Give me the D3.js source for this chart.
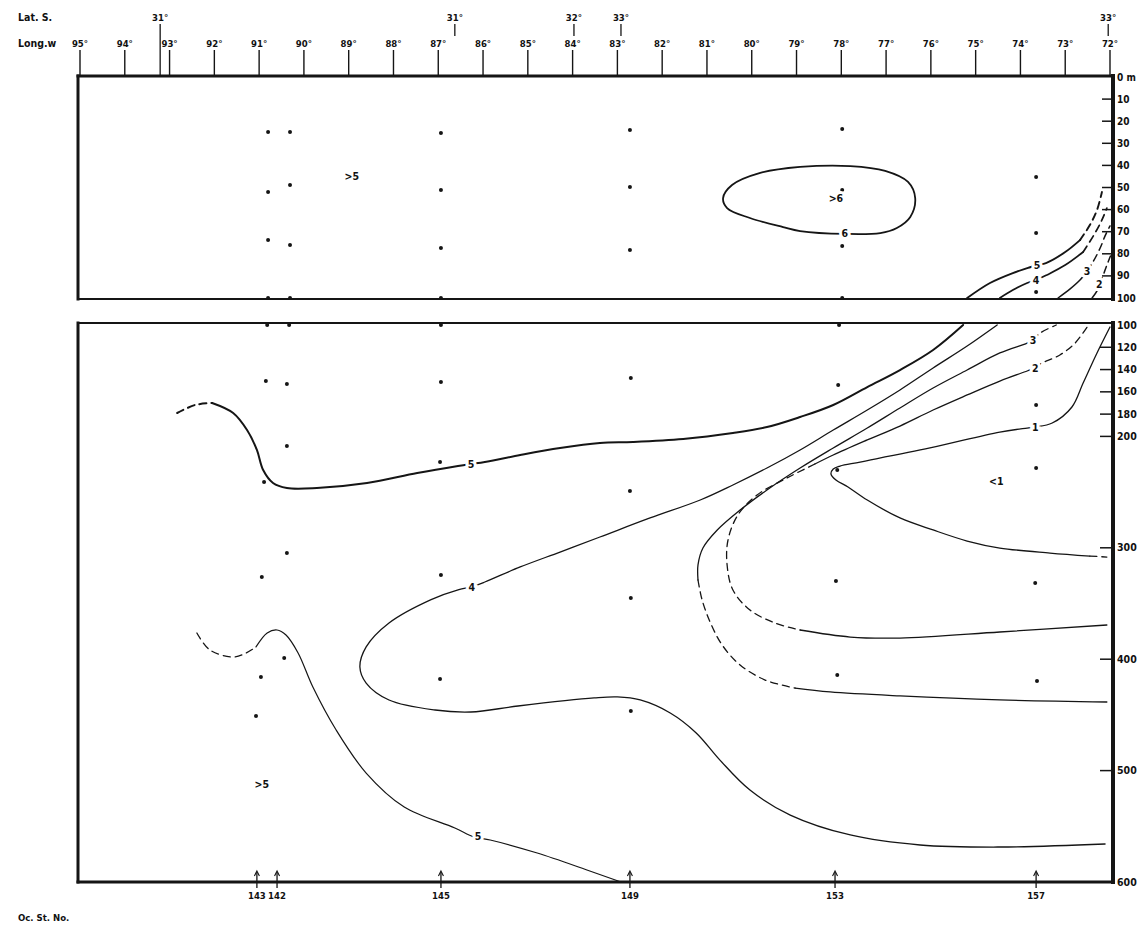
<!DOCTYPE html>
<html>
<head>
<meta charset="utf-8">
<script src="https://cdn.jsdelivr.net/npm/d3@7"></script>
<style>
  html, body { margin: 0; padding: 0; background: #fff; }
  svg { display: block; }
  text { font-family: "DejaVu Sans Condensed", "Liberation Sans Narrow", "DejaVu Sans", sans-serif; font-weight: bold; fill: #111; }
</style>
</head>
<body>
<svg id="chart" width="1146" height="928"></svg>
<script>
// ---- axis labels ----
const lonTicks = [95, 94, 93, 92, 91, 90, 89, 88, 87, 86, 85, 84, 83, 82, 81, 80, 79, 78, 77, 76, 75, 74, 73, 72];
const latLabels = ["31°", "31°", "32°", "33°", "33°"];
const latLon = [93.21, 86.63, 83.97, 82.92, 72.04];
const depthTicksTop = [0, 10, 20, 30, 40, 50, 60, 70, 80, 90, 100];
const depthTicksBottom = [100, 120, 140, 160, 180, 200, 300, 400, 500, 600];
const stationNames = ["143", "142", "145", "149", "153", "157"];
const stationLon = [91.05, 90.60, 86.94, 82.72, 78.14, 73.65];

// ---- sampling depths [longitude W, depth m] ----
const samplesTop = [
  [90.80, 24.9], [90.80, 52.0], [90.80, 73.8], [90.80, 100],
  [90.31, 24.9], [90.31, 48.9], [90.31, 76.0], [90.31, 100],
  [86.94, 25.3], [86.94, 51.1], [86.94, 77.4], [86.94, 100],
  [82.72, 24.0], [82.72, 49.8], [82.72, 78.3],
  [77.98, 23.5], [77.98, 51.1], [77.98, 76.5], [77.98, 100],
  [73.65, 45.2], [73.65, 70.6], [73.65, 97.3]
];
const samplesBottom = [
  [90.82, 100], [90.85, 150.3], [90.89, 240.9], [90.94, 326.2], [90.96, 416.0], [91.07, 451.0],
  [90.33, 100], [90.38, 153.0], [90.38, 208.6], [90.38, 304.7], [90.44, 398.9],
  [86.94, 100], [86.94, 151.2], [86.96, 223.0], [86.94, 324.4], [86.96, 417.8],
  [82.70, 147.6], [82.72, 249.0], [82.70, 345.1], [82.70, 446.5],
  [78.05, 100], [78.07, 153.9], [78.09, 230.2], [78.12, 329.8], [78.09, 414.2],
  [73.65, 171.8], [73.65, 228.4], [73.67, 331.6], [73.63, 419.6]
];

// ---- isolines, upper section (0-100 m) ----
const iso6Ring = [[80.64, 54.8], [80.44, 48.9], [79.81, 43.4], [78.92, 40.7], [77.80, 40.3], [77.02, 42.5], [76.51, 47.5], [76.35, 54.8], [76.46, 63.3], [76.76, 68.3], [77.13, 70.6], [77.92, 71.0], [78.92, 69.7], [79.30, 67.9], [80.04, 63.8], [80.55, 59.3]];
const iso5TopSolid = [[75.19, 100], [74.68, 93.2], [74.17, 88.7], [73.83, 86.4], [73.63, 85.1], [73.43, 84.2], [73.0, 79.2], [72.67, 73.8]];
const iso5TopDash = [[72.67, 73.8], [72.45, 67.0], [72.29, 60.2], [72.18, 52.0]];
const iso4TopSolid = [[74.46, 100], [74.17, 96.4], [73.85, 93.2], [73.65, 91.9], [73.41, 89.6], [73.0, 85.1], [72.60, 79.2]];
const iso4TopDash = [[72.60, 79.2], [72.36, 71.5], [72.18, 64.7], [72.07, 59.3]];
const iso3TopSolid = [[73.16, 100], [72.89, 95.9], [72.67, 91.9], [72.51, 87.8]];
const iso3TopDash = [[72.51, 87.8], [72.38, 83.7], [72.22, 77.4], [72.11, 71.9], [72.0, 67.4]];
const iso2TopSolid = [[72.40, 100], [72.29, 96.8], [72.24, 93.7]];
const iso2TopDash = [[72.24, 93.7], [72.15, 89.6], [72.07, 85.1], [71.99, 81.0]];

// ---- isolines, lower section (100-600 m) ----
const iso5BotDash = [[92.83, 179.0], [92.43, 171.8], [92.05, 170.0]];
const iso5BotSolid = [[92.05, 170.0], [91.58, 179.0], [91.27, 194.3], [91.05, 212.2], [90.91, 230.2], [90.69, 241.8], [90.38, 246.3], [89.71, 246.3], [88.59, 241.8], [87.47, 232.9], [86.56, 226.6], [86.27, 224.8], [85.96, 223.0], [85.17, 216.7], [84.28, 210.4], [83.39, 205.9], [82.65, 205.0], [81.53, 202.3], [80.42, 196.9], [79.66, 191.6], [78.92, 182.6], [78.18, 171.8], [77.42, 155.7], [76.69, 140.4], [75.95, 122.4], [75.28, 100]];
const iso5DeepDash = [[92.39, 376.5], [92.10, 391.7], [91.58, 398.0], [91.29, 394.4], [91.07, 389.0]];
const iso5DeepSolid = [[91.07, 389.0], [90.82, 376.5], [90.60, 373.8], [90.40, 378.3], [90.13, 394.4], [89.80, 425.0], [89.28, 463.6], [88.61, 502.2], [87.76, 532.7], [86.63, 551.5], [86.20, 559.6], [85.84, 562.3], [84.79, 574.0], [83.68, 589.2], [82.92, 600]];
const iso4Bot = [[74.52, 100], [75.19, 118.9], [75.95, 138.6], [76.69, 158.3], [77.42, 176.3], [78.18, 194.3], [78.92, 212.2], [79.66, 228.4], [80.42, 243.6], [81.15, 257.1], [82.27, 273.2], [83.39, 290.3], [84.28, 303.8], [85.17, 317.2], [85.96, 330.7], [86.27, 335.2], [86.54, 337.5], [87.16, 346.5], [88.10, 367.5], [88.61, 389.0], [88.75, 407.0], [88.61, 421.4], [88.10, 436.6], [87.07, 445.6], [86.27, 447.4], [85.22, 442.0], [83.52, 434.8], [83.00, 433.9], [82.49, 436.6], [81.82, 448.3], [81.24, 466.2], [80.71, 490.6], [80.04, 517.5], [79.14, 539.9], [77.80, 557.8], [76.24, 566.8], [74.46, 568.6], [72.11, 565.9]];
const iso3BotUpDash = [[73.72, 113.5], [73.56, 107.2], [73.20, 100]];
const iso3BotSolid = [[73.72, 113.5], [73.85, 116.2], [74.46, 125.1], [75.19, 140.4], [75.95, 156.6], [76.69, 174.5], [77.42, 192.5], [78.18, 210.4], [78.92, 228.4], [79.66, 248.1], [80.26, 266.1], [80.77, 284.0], [81.09, 300.2], [81.20, 315.4], [81.20, 328.9]];
const iso3BotDash = [[81.20, 328.9], [81.11, 346.5], [80.93, 366.6], [80.66, 387.3], [80.26, 405.2], [79.70, 418.7], [79.03, 425.9]];
const iso3BotLower = [[79.03, 425.9], [78.25, 429.4], [76.69, 433.0], [74.46, 436.6], [72.07, 438.4]];
const iso2BotUpDash = [[73.67, 138.6], [73.56, 135.0], [73.12, 126.9], [72.78, 116.2], [72.48, 100]];
const iso2BotSolid = [[73.67, 138.6], [73.85, 141.3], [74.46, 150.3], [75.19, 162.8], [75.95, 176.3], [76.69, 190.7], [77.42, 203.2], [78.18, 216.7], [78.59, 224.8]];
const iso2BotDash = [[78.59, 224.8], [79.21, 237.3], [79.88, 252.6], [80.31, 270.6], [80.53, 293.0], [80.55, 315.4], [80.42, 337.9], [80.04, 355.8], [79.48, 367.5], [78.92, 373.8]];
const iso2BotLower = [[78.92, 373.8], [77.80, 380.1], [76.69, 381.0], [74.46, 375.6], [72.07, 369.3]];
const iso1Bot = [[72.0, 101.8], [72.29, 125.1], [72.60, 152.1], [72.85, 173.6], [73.29, 188.0], [73.67, 191.6], [73.85, 192.5], [74.46, 196.1], [76.02, 210.4], [77.58, 223.0], [78.03, 226.6], [78.18, 229.3], [78.23, 233.8], [78.12, 239.1], [77.85, 245.4], [77.42, 257.1], [76.69, 273.2], [75.95, 284.0], [75.19, 293.9], [74.46, 300.2], [73.34, 304.7], [72.45, 307.4]];
const iso1BotDash = [[72.45, 307.4], [72.07, 308.3]];

// ---- isoline labels and region marks [longitude, depth, text] ----
const labelsTop = [[88.93, 44.8, ">5"], [78.12, 54.8, ">6"], [77.92, 71.0, "6"], [73.63, 85.1, "5"], [73.65, 91.9, "4"], [72.51, 87.8, "3"], [72.24, 93.7, "2"]];
const labelsBottom = [[86.27, 224.8, "5"], [86.25, 335.2, "4"], [86.11, 559.6, "5"], [73.72, 113.5, "3"], [73.67, 138.6, "2"], [73.67, 191.6, "1"], [74.54, 240.9, "<1"], [90.94, 512.9, ">5"]];

// ---- scales ----
const svg = d3.select("#chart");
svg.append("rect").attr("width", 1146).attr("height", 928).attr("fill", "#fff");

const x = d3.scaleLinear().domain([95, 72]).range([80, 1110]);
const yTop = d3.scaleLinear().domain([0, 100]).range([77, 298]);
const yBot = d3.scaleLinear().domain([100, 600]).range([325, 882]);

const ink = "#151515";
const L = x(95) - 2, R = x(72) + 3;

// ---- panel frames ----
const frame = svg.append("g").attr("stroke", ink).attr("fill", "none").attr("stroke-linecap", "square");
function seg(x1, y1, x2, y2, w) {
  frame.append("line").attr("x1", x1).attr("y1", y1).attr("x2", x2).attr("y2", y2).attr("stroke-width", w);
}
const tTop = yTop(0) - 1, tBot = yTop(100) + 1;
const bTop = yBot(100) - 2, bBot = yBot(600);
seg(L, tTop, R, tTop, 3);
seg(L, tTop, L, tBot, 3);
seg(L, tBot, R, tBot, 2);
seg(R, tTop, R, tBot, 4);
seg(L, bTop, R, bTop, 2);
seg(L, bTop, L, bBot, 3);
seg(L, bBot, R, bBot, 3);
seg(R, bTop, R, bBot, 4);

// ---- top axis: longitude and latitude ----
const topAxis = svg.append("g");
lonTicks.forEach(v => {
  topAxis.append("line").attr("x1", x(v)).attr("x2", x(v)).attr("y1", 50).attr("y2", tTop)
    .attr("stroke", ink).attr("stroke-width", 1.4);
  topAxis.append("text").attr("x", x(v)).attr("y", 47).attr("text-anchor", "middle")
    .attr("font-size", 9.5).text(v + "°");
});
latLon.forEach((v, i) => {
  topAxis.append("line").attr("x1", x(v)).attr("x2", x(v)).attr("y1", 24).attr("y2", i === 0 ? tTop : 36)
    .attr("stroke", ink).attr("stroke-width", 1.3);
  topAxis.append("text").attr("x", x(v)).attr("y", 21).attr("text-anchor", "middle")
    .attr("font-size", 9.5).text(latLabels[i]);
});
topAxis.append("text").attr("x", 18).attr("y", 21).attr("font-size", 10.5).text("Lat. S.");
topAxis.append("text").attr("x", 18).attr("y", 47).attr("font-size", 10.5).text("Long.w");

// ---- right axis: depth ----
const depthAxis = svg.append("g");
depthTicksTop.forEach(d => {
  if (d > 0 && d < 100) {
    depthAxis.append("line").attr("x1", R - 11).attr("x2", R).attr("y1", yTop(d)).attr("y2", yTop(d))
      .attr("stroke", ink).attr("stroke-width", 1.5);
  }
  depthAxis.append("text").attr("x", R + 4).attr("y", yTop(d) + 3.5).attr("font-size", 10)
    .text(d === 0 ? "0 m" : d);
});
depthTicksBottom.forEach(d => {
  if (d > 100 && d < 600) {
    depthAxis.append("line").attr("x1", R - 13).attr("x2", R).attr("y1", yBot(d)).attr("y2", yBot(d))
      .attr("stroke", ink).attr("stroke-width", 1.5);
  }
  depthAxis.append("text").attr("x", R + 4).attr("y", yBot(d) + 3.5).attr("font-size", 10.5).text(d);
});

// ---- station markers along the bottom ----
const st = svg.append("g");
stationLon.forEach((v, i) => {
  const sx = x(v);
  st.append("line").attr("x1", sx).attr("x2", sx).attr("y1", bBot - 10).attr("y2", bBot + 6)
    .attr("stroke", ink).attr("stroke-width", 1.3);
  st.append("path").attr("d", `M${sx - 2.5},${bBot - 6} L${sx},${bBot - 11} L${sx + 2.5},${bBot - 6}`)
    .attr("fill", "none").attr("stroke", ink).attr("stroke-width", 1.1);
  st.append("text").attr("x", sx).attr("y", bBot + 17).attr("text-anchor", "middle")
    .attr("font-size", 9.5).text(stationNames[i]);
});
svg.append("text").attr("x", 18).attr("y", 921).attr("font-size", 9.5).text("Oc. St. No.");

// ---- isolines ----
const lineTop = d3.line().x(p => x(p[0])).y(p => yTop(p[1])).curve(d3.curveCatmullRom.alpha(0.5));
const lineBot = d3.line().x(p => x(p[0])).y(p => yBot(p[1])).curve(d3.curveCatmullRom.alpha(0.5));
const ringTop = d3.line().x(p => x(p[0])).y(p => yTop(p[1])).curve(d3.curveCatmullRomClosed.alpha(0.5));

const isoLines = [
  { gen: ringTop, pts: iso6Ring, dash: false, w: 1.8 },
  { gen: lineTop, pts: iso5TopSolid, dash: false, w: 1.9 },
  { gen: lineTop, pts: iso5TopDash, dash: true, w: 1.9 },
  { gen: lineTop, pts: iso4TopSolid, dash: false, w: 1.7 },
  { gen: lineTop, pts: iso4TopDash, dash: true, w: 1.7 },
  { gen: lineTop, pts: iso3TopSolid, dash: false, w: 1.5 },
  { gen: lineTop, pts: iso3TopDash, dash: true, w: 1.5 },
  { gen: lineTop, pts: iso2TopSolid, dash: false, w: 1.5 },
  { gen: lineTop, pts: iso2TopDash, dash: true, w: 1.5 },
  { gen: lineBot, pts: iso5BotDash, dash: true, w: 2.0 },
  { gen: lineBot, pts: iso5BotSolid, dash: false, w: 2.0 },
  { gen: lineBot, pts: iso5DeepDash, dash: true, w: 1.3 },
  { gen: lineBot, pts: iso5DeepSolid, dash: false, w: 1.2 },
  { gen: lineBot, pts: iso4Bot, dash: false, w: 1.3 },
  { gen: lineBot, pts: iso3BotUpDash, dash: true, w: 1.3 },
  { gen: lineBot, pts: iso3BotSolid, dash: false, w: 1.3 },
  { gen: lineBot, pts: iso3BotDash, dash: true, w: 1.3 },
  { gen: lineBot, pts: iso3BotLower, dash: false, w: 1.3 },
  { gen: lineBot, pts: iso2BotUpDash, dash: true, w: 1.3 },
  { gen: lineBot, pts: iso2BotSolid, dash: false, w: 1.3 },
  { gen: lineBot, pts: iso2BotDash, dash: true, w: 1.3 },
  { gen: lineBot, pts: iso2BotLower, dash: false, w: 1.3 },
  { gen: lineBot, pts: iso1Bot, dash: false, w: 1.3 },
  { gen: lineBot, pts: iso1BotDash, dash: true, w: 1.3 }
];
const iso = svg.append("g").attr("fill", "none").attr("stroke", ink).attr("stroke-linecap", "round");
isoLines.forEach(l => {
  iso.append("path").attr("d", l.gen(l.pts)).attr("stroke-width", l.w)
    .attr("stroke-dasharray", l.dash ? "7,5" : null);
});

// ---- sample dots ----
const dots = svg.append("g").attr("fill", ink);
samplesTop.forEach(p => dots.append("circle").attr("cx", x(p[0])).attr("cy", yTop(p[1])).attr("r", 2));
samplesBottom.forEach(p => dots.append("circle").attr("cx", x(p[0])).attr("cy", yBot(p[1])).attr("r", 2));

// ---- isoline labels (white halo opens a gap in the line) ----
const lab = svg.append("g").attr("text-anchor", "middle").attr("font-size", 10.5)
  .attr("stroke", "#fff").attr("stroke-width", 6).attr("paint-order", "stroke");
labelsTop.forEach(t => lab.append("text").attr("x", x(t[0])).attr("y", yTop(t[1]) + 3.5).text(t[2]));
labelsBottom.forEach(t => lab.append("text").attr("x", x(t[0])).attr("y", yBot(t[1]) + 3.5).text(t[2]));
</script>
</body>
</html>
